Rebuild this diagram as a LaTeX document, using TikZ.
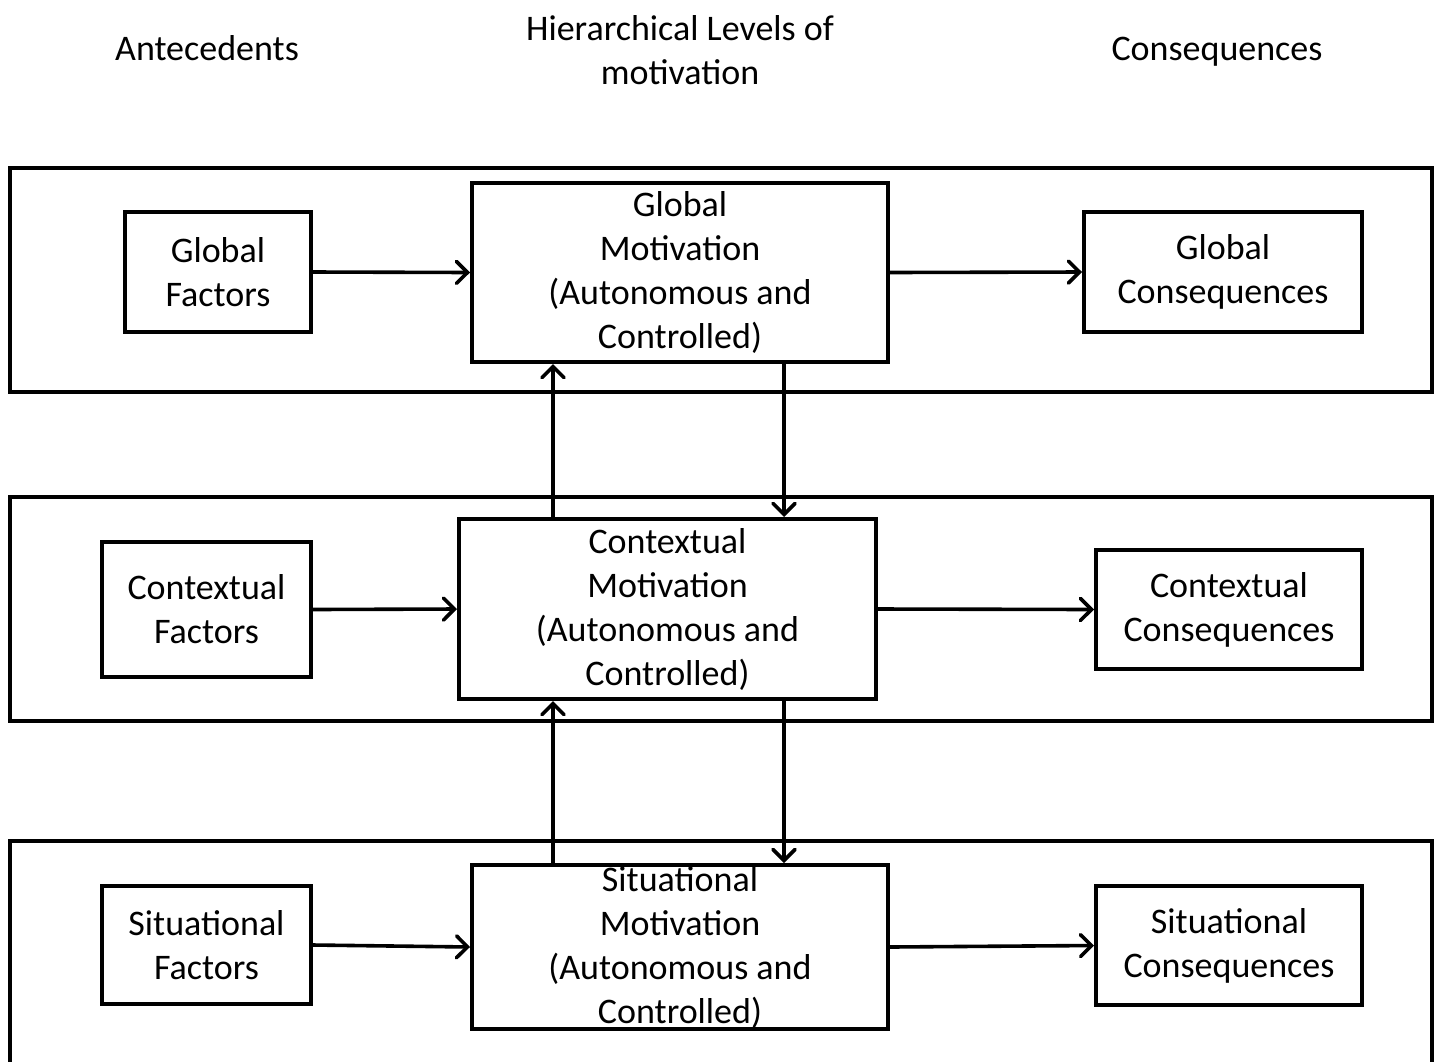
\documentclass[tikz,border=0pt]{standalone}
\usepackage{fontspec}
\setmainfont{Carlito}
\usepackage{tikz}
\usetikzlibrary{arrows.meta, positioning, calc}

\begin{document}
\begin{tikzpicture}[x=0.5pt, y=-0.5pt,
      every node/.style={font=\fontsize{18pt}{22pt}\selectfont, align=center},
      bx/.style={draw, line width=2pt, inner sep=0pt},
      lvl/.style={draw, line width=2pt},
      arr/.style={line width=1.8pt, -{Straight Barb[length=5.5pt, width=11pt, line width=1.8pt, line cap=round]}}]
    \useasboundingbox (0,0) rectangle (1439,1061);
    \clip (0,0) rectangle (1439,1061);
    % column headings
    \node[anchor=base] (hA) at (207,60)  {Antecedents};
    \node (hL) at (680,50)  {Hierarchical Levels of\\motivation};
    \node[anchor=base] (hC) at (1217,60) {Consequences};
    % level frames
    \draw[lvl] (10,168) rectangle (1432,392);
    \draw[lvl] (10,497) rectangle (1432,721);
    \draw[lvl] (10,841) rectangle (1432,1090);
    % global level
    \node[bx, minimum width=93pt,  minimum height=60pt]   (gf) at (218,272)    {Global\\Factors};
    \node[bx, minimum width=208pt, minimum height=89.5pt] (gm) at (680,272.5)  {Global\\Motivation\\(Autonomous and\\Controlled)};
    \node[bx, minimum width=139pt, minimum height=60pt]   (gc) at (1223,272)   {Global\\Consequences};
    % contextual level
    \node[bx, minimum width=104.5pt, minimum height=67.5pt] (cf) at (206.5,609.5) {Contextual\\Factors};
    \node[bx, minimum width=208.5pt, minimum height=90pt]   (cm) at (667.5,609)   {Contextual\\Motivation\\(Autonomous and\\Controlled)};
    \node[bx, minimum width=133pt,   minimum height=59.5pt] (cc) at (1229,609.5)  {Contextual\\Consequences};
    % situational level
    \node[bx, minimum width=104.5pt, minimum height=59pt]   (sf) at (206.5,945)   {Situational\\Factors};
    \node[bx, minimum width=208pt,   minimum height=82pt]   (sm) at (680,947)     {Situational\\Motivation\\(Autonomous and\\Controlled)};
    \node[bx, minimum width=133pt,   minimum height=59.5pt] (sc) at (1229,945.5)  {Situational\\Consequences};
    % horizontal arrows
    \draw[arr] (gf.east) -- (gm.west);
    \draw[arr] (gm.east) -- (gc.west);
    \draw[arr] (cf.east) -- (cm.west);
    \draw[arr] (cm.east) -- (cc.west);
    \draw[arr] (sf.east) -- (sm.west);
    \draw[arr] (sm.east) -- (sc.west);
    % vertical arrows
    \draw[arr] (cm.north -| 553,0) -- (gm.south -| 553,0);
    \draw[arr] (gm.south -| 784,0) -- (cm.north -| 784,0);
    \draw[arr] (sm.north -| 553,0) -- (cm.south -| 553,0);
    \draw[arr] (cm.south -| 784,0) -- (sm.north -| 784,0);
\end{tikzpicture}
\end{document}
